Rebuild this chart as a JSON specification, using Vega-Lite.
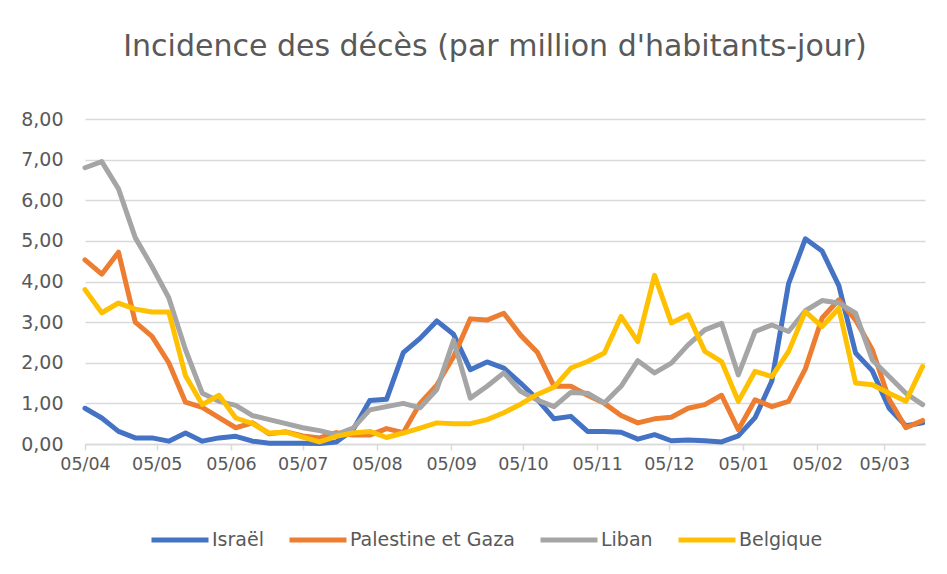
{
  "$schema": "https://vega.github.io/schema/vega-lite/v6.json",
  "width": 840,
  "height": 325,
  "autosize": "none",
  "padding": {"left": 85, "top": 119, "right": 22, "bottom": 130},
  "background": "white",
  "title": {
    "text": "Incidence des décès (par million d'habitants-jour)",
    "font": "DejaVu Sans",
    "fontSize": 30,
    "fontWeight": "normal",
    "color": "#595959",
    "anchor": "middle",
    "dx": -10,
    "offset": 48
  },
  "datasets": {
    "series": [
      {"date":"2020-04-05","pays":"Israël","valeur":0.88},{"date":"2020-04-12","pays":"Israël","valeur":0.64},{"date":"2020-04-19","pays":"Israël","valeur":0.31},{"date":"2020-04-26","pays":"Israël","valeur":0.15},{"date":"2020-05-03","pays":"Israël","valeur":0.15},{"date":"2020-05-10","pays":"Israël","valeur":0.07},{"date":"2020-05-17","pays":"Israël","valeur":0.27},{"date":"2020-05-24","pays":"Israël","valeur":0.07},{"date":"2020-05-31","pays":"Israël","valeur":0.15},{"date":"2020-06-07","pays":"Israël","valeur":0.19},{"date":"2020-06-14","pays":"Israël","valeur":0.07},{"date":"2020-06-21","pays":"Israël","valeur":0.02},{"date":"2020-06-28","pays":"Israël","valeur":0.02},{"date":"2020-07-05","pays":"Israël","valeur":0.02},{"date":"2020-07-12","pays":"Israël","valeur":0.01},{"date":"2020-07-19","pays":"Israël","valeur":0.05},{"date":"2020-07-26","pays":"Israël","valeur":0.35},{"date":"2020-08-02","pays":"Israël","valeur":1.07},{"date":"2020-08-09","pays":"Israël","valeur":1.1},{"date":"2020-08-16","pays":"Israël","valeur":2.25},{"date":"2020-08-23","pays":"Israël","valeur":2.6},{"date":"2020-08-30","pays":"Israël","valeur":3.03},{"date":"2020-09-06","pays":"Israël","valeur":2.7},{"date":"2020-09-13","pays":"Israël","valeur":1.83},{"date":"2020-09-20","pays":"Israël","valeur":2.02},{"date":"2020-09-27","pays":"Israël","valeur":1.87},{"date":"2020-10-04","pays":"Israël","valeur":1.5},{"date":"2020-10-11","pays":"Israël","valeur":1.1},{"date":"2020-10-18","pays":"Israël","valeur":0.62},{"date":"2020-10-25","pays":"Israël","valeur":0.68},{"date":"2020-11-01","pays":"Israël","valeur":0.31},{"date":"2020-11-08","pays":"Israël","valeur":0.31},{"date":"2020-11-15","pays":"Israël","valeur":0.29},{"date":"2020-11-22","pays":"Israël","valeur":0.12},{"date":"2020-11-29","pays":"Israël","valeur":0.23},{"date":"2020-12-06","pays":"Israël","valeur":0.08},{"date":"2020-12-13","pays":"Israël","valeur":0.1},{"date":"2020-12-20","pays":"Israël","valeur":0.08},{"date":"2020-12-27","pays":"Israël","valeur":0.05},{"date":"2021-01-03","pays":"Israël","valeur":0.2},{"date":"2021-01-10","pays":"Israël","valeur":0.65},{"date":"2021-01-17","pays":"Israël","valeur":1.55},{"date":"2021-01-24","pays":"Israël","valeur":3.95},{"date":"2021-01-31","pays":"Israël","valeur":5.05},{"date":"2021-02-07","pays":"Israël","valeur":4.75},{"date":"2021-02-14","pays":"Israël","valeur":3.9},{"date":"2021-02-21","pays":"Israël","valeur":2.24},{"date":"2021-02-28","pays":"Israël","valeur":1.8},{"date":"2021-03-07","pays":"Israël","valeur":0.88},{"date":"2021-03-14","pays":"Israël","valeur":0.45},{"date":"2021-03-21","pays":"Israël","valeur":0.52},
      {"date":"2020-04-05","pays":"Palestine et Gaza","valeur":4.53},{"date":"2020-04-12","pays":"Palestine et Gaza","valeur":4.18},{"date":"2020-04-19","pays":"Palestine et Gaza","valeur":4.72},{"date":"2020-04-26","pays":"Palestine et Gaza","valeur":3.0},{"date":"2020-05-03","pays":"Palestine et Gaza","valeur":2.65},{"date":"2020-05-10","pays":"Palestine et Gaza","valeur":2.0},{"date":"2020-05-17","pays":"Palestine et Gaza","valeur":1.03},{"date":"2020-05-24","pays":"Palestine et Gaza","valeur":0.9},{"date":"2020-05-31","pays":"Palestine et Gaza","valeur":0.65},{"date":"2020-06-07","pays":"Palestine et Gaza","valeur":0.4},{"date":"2020-06-14","pays":"Palestine et Gaza","valeur":0.52},{"date":"2020-06-21","pays":"Palestine et Gaza","valeur":0.25},{"date":"2020-06-28","pays":"Palestine et Gaza","valeur":0.3},{"date":"2020-07-05","pays":"Palestine et Gaza","valeur":0.2},{"date":"2020-07-12","pays":"Palestine et Gaza","valeur":0.15},{"date":"2020-07-19","pays":"Palestine et Gaza","valeur":0.28},{"date":"2020-07-26","pays":"Palestine et Gaza","valeur":0.22},{"date":"2020-08-02","pays":"Palestine et Gaza","valeur":0.22},{"date":"2020-08-09","pays":"Palestine et Gaza","valeur":0.38},{"date":"2020-08-16","pays":"Palestine et Gaza","valeur":0.28},{"date":"2020-08-23","pays":"Palestine et Gaza","valeur":1.0},{"date":"2020-08-30","pays":"Palestine et Gaza","valeur":1.45},{"date":"2020-09-06","pays":"Palestine et Gaza","valeur":2.15},{"date":"2020-09-13","pays":"Palestine et Gaza","valeur":3.08},{"date":"2020-09-20","pays":"Palestine et Gaza","valeur":3.05},{"date":"2020-09-27","pays":"Palestine et Gaza","valeur":3.22},{"date":"2020-10-04","pays":"Palestine et Gaza","valeur":2.68},{"date":"2020-10-11","pays":"Palestine et Gaza","valeur":2.26},{"date":"2020-10-18","pays":"Palestine et Gaza","valeur":1.42},{"date":"2020-10-25","pays":"Palestine et Gaza","valeur":1.42},{"date":"2020-11-01","pays":"Palestine et Gaza","valeur":1.2},{"date":"2020-11-08","pays":"Palestine et Gaza","valeur":1.0},{"date":"2020-11-15","pays":"Palestine et Gaza","valeur":0.7},{"date":"2020-11-22","pays":"Palestine et Gaza","valeur":0.52},{"date":"2020-11-29","pays":"Palestine et Gaza","valeur":0.62},{"date":"2020-12-06","pays":"Palestine et Gaza","valeur":0.66},{"date":"2020-12-13","pays":"Palestine et Gaza","valeur":0.88},{"date":"2020-12-20","pays":"Palestine et Gaza","valeur":0.97},{"date":"2020-12-27","pays":"Palestine et Gaza","valeur":1.2},{"date":"2021-01-03","pays":"Palestine et Gaza","valeur":0.35},{"date":"2021-01-10","pays":"Palestine et Gaza","valeur":1.09},{"date":"2021-01-17","pays":"Palestine et Gaza","valeur":0.92},{"date":"2021-01-24","pays":"Palestine et Gaza","valeur":1.05},{"date":"2021-01-31","pays":"Palestine et Gaza","valeur":1.85},{"date":"2021-02-07","pays":"Palestine et Gaza","valeur":3.1},{"date":"2021-02-14","pays":"Palestine et Gaza","valeur":3.55},{"date":"2021-02-21","pays":"Palestine et Gaza","valeur":3.05},{"date":"2021-02-28","pays":"Palestine et Gaza","valeur":2.32},{"date":"2021-03-07","pays":"Palestine et Gaza","valeur":1.1},{"date":"2021-03-14","pays":"Palestine et Gaza","valeur":0.4},{"date":"2021-03-21","pays":"Palestine et Gaza","valeur":0.58},
      {"date":"2020-04-05","pays":"Liban","valeur":6.8},{"date":"2020-04-12","pays":"Liban","valeur":6.95},{"date":"2020-04-19","pays":"Liban","valeur":6.28},{"date":"2020-04-26","pays":"Liban","valeur":5.08},{"date":"2020-05-03","pays":"Liban","valeur":4.37},{"date":"2020-05-10","pays":"Liban","valeur":3.6},{"date":"2020-05-17","pays":"Liban","valeur":2.32},{"date":"2020-05-24","pays":"Liban","valeur":1.25},{"date":"2020-05-31","pays":"Liban","valeur":1.05},{"date":"2020-06-07","pays":"Liban","valeur":0.95},{"date":"2020-06-14","pays":"Liban","valeur":0.7},{"date":"2020-06-21","pays":"Liban","valeur":0.6},{"date":"2020-06-28","pays":"Liban","valeur":0.5},{"date":"2020-07-05","pays":"Liban","valeur":0.4},{"date":"2020-07-12","pays":"Liban","valeur":0.33},{"date":"2020-07-19","pays":"Liban","valeur":0.23},{"date":"2020-07-26","pays":"Liban","valeur":0.39},{"date":"2020-08-02","pays":"Liban","valeur":0.84},{"date":"2020-08-09","pays":"Liban","valeur":0.92},{"date":"2020-08-16","pays":"Liban","valeur":1.0},{"date":"2020-08-23","pays":"Liban","valeur":0.89},{"date":"2020-08-30","pays":"Liban","valeur":1.34},{"date":"2020-09-06","pays":"Liban","valeur":2.55},{"date":"2020-09-13","pays":"Liban","valeur":1.13},{"date":"2020-09-20","pays":"Liban","valeur":1.42},{"date":"2020-09-27","pays":"Liban","valeur":1.75},{"date":"2020-10-04","pays":"Liban","valeur":1.3},{"date":"2020-10-11","pays":"Liban","valeur":1.08},{"date":"2020-10-18","pays":"Liban","valeur":0.92},{"date":"2020-10-25","pays":"Liban","valeur":1.27},{"date":"2020-11-01","pays":"Liban","valeur":1.25},{"date":"2020-11-08","pays":"Liban","valeur":1.01},{"date":"2020-11-15","pays":"Liban","valeur":1.42},{"date":"2020-11-22","pays":"Liban","valeur":2.05},{"date":"2020-11-29","pays":"Liban","valeur":1.75},{"date":"2020-12-06","pays":"Liban","valeur":1.99},{"date":"2020-12-13","pays":"Liban","valeur":2.44},{"date":"2020-12-20","pays":"Liban","valeur":2.81},{"date":"2020-12-27","pays":"Liban","valeur":2.97},{"date":"2021-01-03","pays":"Liban","valeur":1.7},{"date":"2021-01-10","pays":"Liban","valeur":2.77},{"date":"2021-01-17","pays":"Liban","valeur":2.93},{"date":"2021-01-24","pays":"Liban","valeur":2.77},{"date":"2021-01-31","pays":"Liban","valeur":3.28},{"date":"2021-02-07","pays":"Liban","valeur":3.53},{"date":"2021-02-14","pays":"Liban","valeur":3.47},{"date":"2021-02-21","pays":"Liban","valeur":3.22},{"date":"2021-02-28","pays":"Liban","valeur":2.07},{"date":"2021-03-07","pays":"Liban","valeur":1.66},{"date":"2021-03-14","pays":"Liban","valeur":1.25},{"date":"2021-03-21","pays":"Liban","valeur":0.97},
      {"date":"2020-04-05","pays":"Belgique","valeur":3.8},{"date":"2020-04-12","pays":"Belgique","valeur":3.23},{"date":"2020-04-19","pays":"Belgique","valeur":3.47},{"date":"2020-04-26","pays":"Belgique","valeur":3.32},{"date":"2020-05-03","pays":"Belgique","valeur":3.25},{"date":"2020-05-10","pays":"Belgique","valeur":3.25},{"date":"2020-05-17","pays":"Belgique","valeur":1.68},{"date":"2020-05-24","pays":"Belgique","valeur":0.97},{"date":"2020-05-31","pays":"Belgique","valeur":1.2},{"date":"2020-06-07","pays":"Belgique","valeur":0.64},{"date":"2020-06-14","pays":"Belgique","valeur":0.5},{"date":"2020-06-21","pays":"Belgique","valeur":0.27},{"date":"2020-06-28","pays":"Belgique","valeur":0.29},{"date":"2020-07-05","pays":"Belgique","valeur":0.17},{"date":"2020-07-12","pays":"Belgique","valeur":0.05},{"date":"2020-07-19","pays":"Belgique","valeur":0.19},{"date":"2020-07-26","pays":"Belgique","valeur":0.27},{"date":"2020-08-02","pays":"Belgique","valeur":0.31},{"date":"2020-08-09","pays":"Belgique","valeur":0.16},{"date":"2020-08-16","pays":"Belgique","valeur":0.27},{"date":"2020-08-23","pays":"Belgique","valeur":0.39},{"date":"2020-08-30","pays":"Belgique","valeur":0.52},{"date":"2020-09-06","pays":"Belgique","valeur":0.5},{"date":"2020-09-13","pays":"Belgique","valeur":0.5},{"date":"2020-09-20","pays":"Belgique","valeur":0.6},{"date":"2020-09-27","pays":"Belgique","valeur":0.77},{"date":"2020-10-04","pays":"Belgique","valeur":0.98},{"date":"2020-10-11","pays":"Belgique","valeur":1.22},{"date":"2020-10-18","pays":"Belgique","valeur":1.4},{"date":"2020-10-25","pays":"Belgique","valeur":1.87},{"date":"2020-11-01","pays":"Belgique","valeur":2.03},{"date":"2020-11-08","pays":"Belgique","valeur":2.24},{"date":"2020-11-15","pays":"Belgique","valeur":3.14},{"date":"2020-11-22","pays":"Belgique","valeur":2.52},{"date":"2020-11-29","pays":"Belgique","valeur":4.15},{"date":"2020-12-06","pays":"Belgique","valeur":2.98},{"date":"2020-12-13","pays":"Belgique","valeur":3.18},{"date":"2020-12-20","pays":"Belgique","valeur":2.28},{"date":"2020-12-27","pays":"Belgique","valeur":2.03},{"date":"2021-01-03","pays":"Belgique","valeur":1.05},{"date":"2021-01-10","pays":"Belgique","valeur":1.79},{"date":"2021-01-17","pays":"Belgique","valeur":1.66},{"date":"2021-01-24","pays":"Belgique","valeur":2.28},{"date":"2021-01-31","pays":"Belgique","valeur":3.26},{"date":"2021-02-07","pays":"Belgique","valeur":2.89},{"date":"2021-02-14","pays":"Belgique","valeur":3.34},{"date":"2021-02-21","pays":"Belgique","valeur":1.5},{"date":"2021-02-28","pays":"Belgique","valeur":1.46},{"date":"2021-03-07","pays":"Belgique","valeur":1.25},{"date":"2021-03-14","pays":"Belgique","valeur":1.05},{"date":"2021-03-21","pays":"Belgique","valeur":1.91}
    ]
  },
  "data": {"name": "series"},
  "mark": {"type": "line", "strokeWidth": 5, "strokeJoin": "round", "strokeCap": "round"},
  "encoding": {
    "x": {
      "field": "date",
      "type": "temporal",
      "scale": {
        "type": "utc",
        "domain": [{"year": 2020, "month": 4, "date": 5, "utc": true}, {"year": 2021, "month": 3, "date": 22, "utc": true}]
      },
      "axis": {
        "title": null,
        "values": [
          {"year": 2020, "month": 4, "date": 5, "utc": true},
          {"year": 2020, "month": 5, "date": 5, "utc": true},
          {"year": 2020, "month": 6, "date": 5, "utc": true},
          {"year": 2020, "month": 7, "date": 5, "utc": true},
          {"year": 2020, "month": 8, "date": 5, "utc": true},
          {"year": 2020, "month": 9, "date": 5, "utc": true},
          {"year": 2020, "month": 10, "date": 5, "utc": true},
          {"year": 2020, "month": 11, "date": 5, "utc": true},
          {"year": 2020, "month": 12, "date": 5, "utc": true},
          {"year": 2021, "month": 1, "date": 5, "utc": true},
          {"year": 2021, "month": 2, "date": 5, "utc": true},
          {"year": 2021, "month": 3, "date": 5, "utc": true}
        ],
        "labelExpr": "utcFormat(datum.value, '%d/%m')",
        "grid": false,
        "domain": true,
        "domainColor": "#d9d9d9",
        "domainWidth": 1.5,
        "ticks": true,
        "tickColor": "#d9d9d9",
        "tickWidth": 1.5,
        "tickSize": 6,
        "labelPadding": 5,
        "labelFont": "DejaVu Sans",
        "labelFontSize": 17.5,
        "labelColor": "#595959",
        "labelFlush": false,
        "labelOverlap": false
      }
    },
    "y": {
      "field": "valeur",
      "type": "quantitative",
      "scale": {"domain": [0, 8], "nice": false, "zero": true},
      "axis": {
        "title": null,
        "values": [0, 1, 2, 3, 4, 5, 6, 7, 8],
        "labelExpr": "replace(format(datum.value, '.2f'), '.', ',')",
        "domain": false,
        "ticks": false,
        "grid": true,
        "gridColor": "#d9d9d9",
        "gridWidth": 1.5,
        "labelPadding": 22,
        "labelFont": "DejaVu Sans",
        "labelFontSize": 19,
        "labelColor": "#595959"
      }
    },
    "color": {
      "field": "pays",
      "type": "nominal",
      "scale": {
        "domain": ["Israël", "Palestine et Gaza", "Liban", "Belgique"],
        "range": ["#4472C4", "#ED7D31", "#A5A5A5", "#FFC000"]
      },
      "legend": {
        "title": null,
        "orient": "none",
        "legendX": 64,
        "legendY": 390,
        "direction": "horizontal",
        "symbolType": "stroke",
        "symbolStrokeWidth": 5,
        "symbolSize": 3249,
        "labelFont": "DejaVu Sans",
        "labelFontSize": 19,
        "labelColor": "#595959",
        "labelOffset": 1,
        "labelLimit": 400,
        "columnPadding": 15
      }
    }
  },
  "config": {
    "view": {"stroke": null}
  }
}
